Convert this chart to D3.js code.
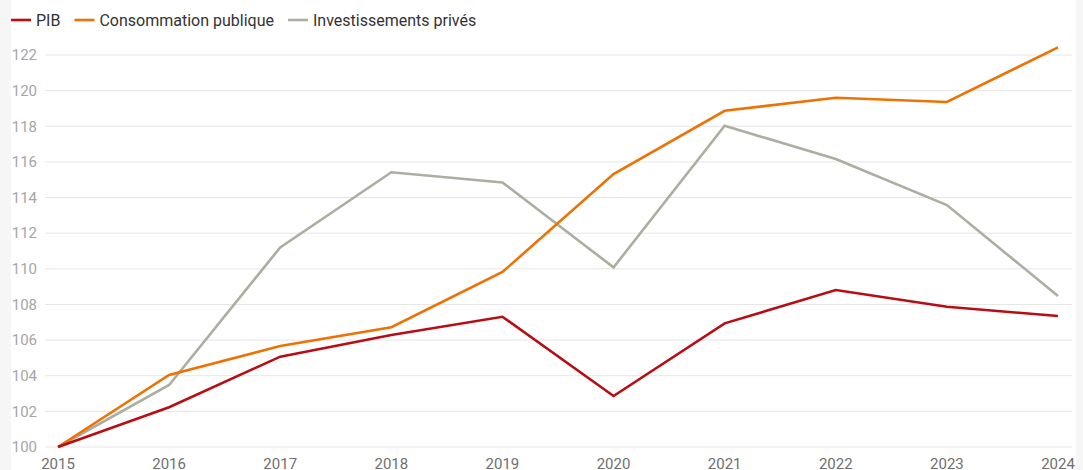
<!DOCTYPE html>
<html><head><meta charset="utf-8">
<script src="https://cdn.jsdelivr.net/npm/d3@7"></script>
<style>
html,body{margin:0;padding:0;background:#f6f6f6;}
svg{display:block;}
</style></head>
<body>
<svg id="chart" width="1083" height="470"></svg>
<script>
const years = [2015,2016,2017,2018,2019,2020,2021,2022,2023,2024];
const pib = [100,102.23,105.07,106.29,107.31,102.86,106.94,108.81,107.87,107.35];
const consommation = [100,104.04,105.67,106.72,109.82,115.32,118.87,119.6,119.36,122.43];
const investissements = [100,103.48,111.2,115.42,114.85,110.08,118.03,116.16,113.58,108.47];
const yTicks = [100,102,104,106,108,110,112,114,116,118,120,122];
const seriesNames = ["PIB","Consommation publique","Investissements privés"];
const seriesColors = ["#b70d14","#ee7203","#aeada2"];
const seriesValues = [pib, consommation, investissements];

const svg = d3.select("#chart");
const W = 1083, H = 470;
svg.append("rect").attr("x",11).attr("y",0).attr("width",1065).attr("height",H).attr("fill","#fff");

const x = d3.scalePoint().domain(years).range([58,1058]);
const y = d3.scaleLinear().domain([100,122]).range([447,55]);

// grid
svg.append("g").selectAll("line").data(yTicks).join("line")
  .attr("x1",45).attr("x2",1072)
  .attr("y1",d=>y(d)).attr("y2",d=>y(d))
  .attr("stroke","#e6e6e6").attr("stroke-width",1);

// y labels
svg.append("g").selectAll("text").data(yTicks).join("text")
  .attr("x",37).attr("y",d=>y(d)).attr("dy","0.35em")
  .attr("text-anchor","end")
  .attr("font-family","Roboto, sans-serif").attr("font-size",15)
  .attr("fill","#a6a6a6").text(d=>d);

// x labels
svg.append("g").selectAll("text").data(years).join("text")
  .attr("x",d=>x(d)).attr("y",468.5)
  .attr("text-anchor","middle")
  .attr("font-family","Roboto, sans-serif").attr("font-size",15)
  .attr("fill","#6f6f6f").text(d=>d);

// lines (draw gray first, then orange, then red on top)
const line = d3.line().x((d,i)=>x(years[i])).y(d=>y(d));
[2,1,0].forEach(k=>{
  svg.append("path").datum(seriesValues[k])
    .attr("d",line).attr("fill","none")
    .attr("stroke",seriesColors[k]).attr("stroke-width",2.6)
    .attr("stroke-linejoin","miter");
});

// legend
const legend = svg.append("g").attr("font-family","Roboto, sans-serif").attr("font-size",16).attr("fill","#333");
let lx = 11;
seriesNames.forEach((n,i)=>{
  legend.append("line").attr("x1",lx).attr("x2",lx+20).attr("y1",20).attr("y2",20)
    .attr("stroke",seriesColors[i]).attr("stroke-width",2.6);
  const t = legend.append("text").attr("x",lx+25).attr("y",20).attr("dy","0.35em").text(n);
  const w = t.node().getComputedTextLength();
  lx = lx + 25 + w + 14;
});
</script>
</body></html>
